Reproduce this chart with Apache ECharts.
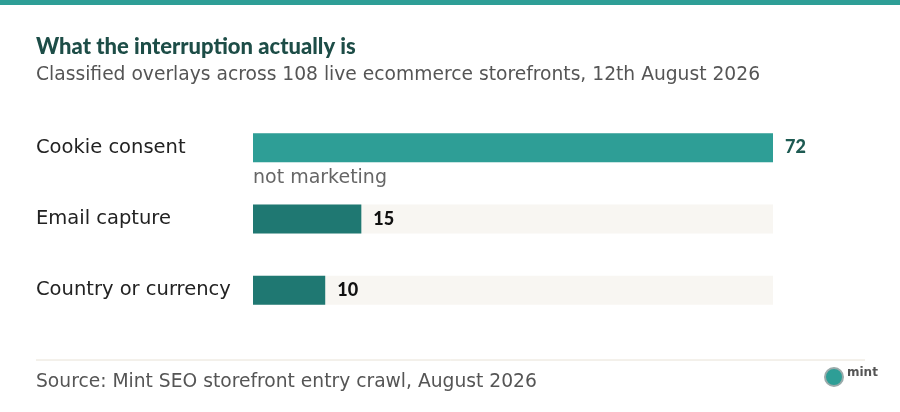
<!DOCTYPE html>
<html><head><meta charset="utf-8">
<script src="https://cdn.jsdelivr.net/npm/echarts@6/dist/echarts.min.js"></script>
<style>html,body{margin:0;padding:0;background:#fff}#c{width:900px;height:412px}</style>
</head><body><div id="c"></div>
<script>
const categories = ['Cookie consent', 'Email capture', 'Country or currency'];
const values = [72, 15, 10];
const axisMax = 72;
const barColors = ['#2e9e96', '#1f7872', '#1f7872'];
const labelColors = ['#1d5a52', '#111111', '#111111'];
const title = 'What the interruption actually is';
const subtitle = 'Classified overlays across 108 live ecommerce storefronts, 12th August 2026';
const note = 'not marketing';
const source = 'Source: Mint SEO storefront entry crawl, August 2026';
const FONT = '"DejaVu Sans", sans-serif';
const BOLD = 'Lato, sans-serif';

const chart = echarts.init(document.getElementById('c'));
chart.setOption({
  backgroundColor: '#fff',
  animation: false,
  grid: {left: 253, right: 127, top: 112, bottom: 86},
  xAxis: {type: 'value', min: 0, max: axisMax, show: false},
  yAxis: {
    type: 'category', data: categories, inverse: true,
    axisLine: {show: false}, axisTick: {show: false}, splitLine: {show: false},
    axisLabel: {align: 'left', margin: 217, fontFamily: FONT, fontSize: 19.5, color: '#222', padding: [10, 0, 0, 0]}
  },
  series: [{
    type: 'bar', barWidth: 29,
    showBackground: true, backgroundStyle: {color: '#f8f6f2'},
    data: values.map((v, i) => ({value: v, itemStyle: {color: barColors[i]},
      label: {color: labelColors[i]}})),
    label: {show: true, position: 'right', distance: 12, fontFamily: BOLD, fontSize: 18, fontWeight: 900, padding: [3, 0, 0, 0]}
  }],
  graphic: [
    {type: 'rect', left: 0, top: 0, shape: {width: 900, height: 5}, style: {fill: '#2e9e96'}},
    {type: 'text', left: 36, top: 36, style: {text: title, font: '900 22px ' + BOLD, fill: '#1d4d47'}},
    {type: 'text', left: 36, top: 66, style: {text: subtitle, font: '18.7px ' + FONT, fill: '#555'}},
    {type: 'text', left: 253, top: 169, style: {text: note, font: '19px ' + FONT, fill: '#666'}},
    {type: 'line', shape: {x1: 36, y1: 360, x2: 865, y2: 360}, style: {stroke: '#e8e2d6', lineWidth: 1}},
    {type: 'text', left: 36, top: 373, style: {text: source, font: '18.7px ' + FONT, fill: '#555'}},
    {type: 'circle', shape: {cx: 834, cy: 377, r: 9}, style: {fill: '#2e9e96', stroke: '#9aa', lineWidth: 2}},
    {type: 'text', left: 847, top: 367, style: {text: 'mint', font: 'bold 12px ' + FONT, fill: '#555'}}
  ]
});
</script></body></html>
